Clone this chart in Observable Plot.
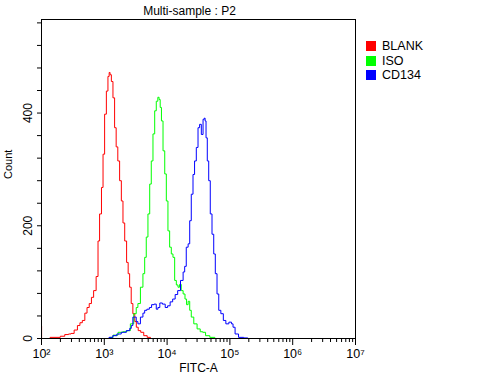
<!DOCTYPE html>
<html>
<head>
<meta charset="utf-8">
<script src="https://cdn.jsdelivr.net/npm/d3@7"></script>
<script src="https://cdn.jsdelivr.net/npm/@observablehq/plot@0.6"></script>
<style>
  html, body { margin: 0; padding: 0; background: #fff; }
  #wrap { position: relative; width: 492px; height: 377px; }
  #legend { position: absolute; left: 366px; top: 39px; font: 12.5px "Liberation Sans", Arial, sans-serif; color: #000; }
  .row { display: flex; align-items: center; height: 14.5px; }
  .sw { width: 10px; height: 10px; margin-right: 6px; }
</style>
</head>
<body>
<div id="wrap"><div id="legend"></div></div>
<script>
// Series names and colours
const seriesNames = ["BLANK", "ISO", "CD134"];
const seriesColors = ["#ff0000", "#00ff00", "#0000ff"];

// x values are log10(FITC-A), y values are counts
const blankLogX = [2.0, 2.003, 2.27, 2.33, 2.41, 2.45, 2.49, 2.55, 2.594, 2.63, 2.67, 2.71, 2.74, 2.78, 2.81, 2.85, 2.89, 2.91, 2.94, 2.97, 2.99, 3.02, 3.046, 3.07, 3.085, 3.099, 3.126, 3.15, 3.178, 3.20, 3.23, 3.258, 3.285, 3.31, 3.34, 3.37, 3.39, 3.417, 3.44, 3.47, 3.50, 3.52, 3.56, 3.60, 3.656, 3.71, 3.76];
const blankCount = [22, 0, 2, 4, 7, 8, 9, 15, 23, 28, 32, 45, 55, 62, 73, 85, 110, 173, 221, 268, 327, 398, 439, 465, 472, 468, 456, 427, 374, 340, 315, 280, 244, 205, 173, 135, 115, 91, 62, 44, 30, 20, 14, 11, 5, 2, 0];

const isoLogX = [3.08, 3.1, 3.18, 3.258, 3.33, 3.39, 3.44, 3.497, 3.52, 3.55, 3.60, 3.63, 3.656, 3.68, 3.71, 3.736, 3.76, 3.79, 3.815, 3.84, 3.865, 3.88, 3.90, 3.92, 3.95, 3.975, 4.00, 4.027, 4.054, 4.08, 4.107, 4.134, 4.16, 4.187, 4.21, 4.24, 4.27, 4.30, 4.32, 4.35, 4.37, 4.40, 4.45, 4.505, 4.55, 4.585, 4.64, 4.72, 4.80];
const isoCount = [0, 2, 6, 11, 12, 14, 26, 44, 55, 62, 91, 115, 144, 180, 221, 274, 315, 363, 404, 421, 428, 424, 410, 386, 333, 292, 244, 191, 162, 150, 144, 103, 95, 91, 96, 85, 79, 70, 60, 66, 50, 38, 26, 17, 12, 11, 5, 2, 0];

const cd134LogX = [3.05, 3.1, 3.17, 3.23, 3.31, 3.39, 3.42, 3.44, 3.47, 3.497, 3.52, 3.55, 3.60, 3.63, 3.656, 3.70, 3.736, 3.77, 3.815, 3.84, 3.868, 3.90, 3.95, 3.99, 4.027, 4.07, 4.107, 4.15, 4.187, 4.24, 4.27, 4.29, 4.32, 4.35, 4.37, 4.40, 4.425, 4.45, 4.48, 4.505, 4.53, 4.56, 4.585, 4.60, 4.61, 4.63, 4.65, 4.675, 4.70, 4.73, 4.755, 4.78, 4.81, 4.835, 4.877, 4.914, 4.957, 5.01, 5.04, 5.06, 5.105, 5.17, 5.27, 5.30];
const cd134Count = [0, 2, 5, 8, 11, 14, 18, 23, 38, 38, 30, 26, 38, 45, 50, 52, 55, 60, 61, 52, 55, 63, 61, 55, 58, 65, 70, 78, 85, 103, 118, 128, 162, 168, 209, 256, 291, 315, 339, 374, 380, 362, 389, 391, 386, 356, 315, 280, 221, 185, 150, 115, 79, 50, 44, 32, 26, 29, 26, 20, 8, 2, 1, 0];

// Tick values
const decadeTicks = [1e2, 1e3, 1e4, 1e5, 1e6, 1e7];
const yTicks = [0, 40, 80, 120, 160, 200, 240, 280, 320, 360, 400, 440, 480, 520, 560];
const yLabels = [0, 200, 400];
const sup = {2: "\u00B2", 3: "\u00B3", 4: "\u2074", 5: "\u2075", 6: "\u2076", 7: "\u2077"};

const minorTicks = [];
for (let n = 2; n < 7; n++) for (let k = 2; k <= 9; k++) minorTicks.push(k * 10 ** n);

const rows = [];
[[blankLogX, blankCount], [isoLogX, isoCount], [cd134LogX, cd134Count]].forEach(([xs, ys], i) => {
  xs.forEach((lx, j) => rows.push({series: seriesNames[i], fitc: 10 ** lx, count: ys[j]}));
});

const chart = Plot.plot({
  width: 492,
  height: 377,
  marginLeft: 41,
  marginRight: 137,
  marginTop: 19,
  marginBottom: 39,
  style: {fontFamily: '"Liberation Sans", Arial, sans-serif', fontSize: "12px", color: "#000", background: "#fff"},
  x: {type: "log", domain: [1e2, 1e7], axis: null},
  y: {domain: [0, 566], axis: null},
  color: {domain: seriesNames, range: seriesColors},
  marks: [
    Plot.line(rows, {x: "fitc", y: "count", z: "series", stroke: "series", strokeWidth: 1, curve: "step"}),
    Plot.frame({stroke: "#000", strokeWidth: 1}),
    Plot.axisY({ticks: yTicks, tickSize: 4, tickFormat: () => "", label: null}),
    Plot.text(yLabels, {frameAnchor: "left", y: d => d, text: d => String(d), rotate: -90, dx: -10, lineAnchor: "bottom", textAnchor: "middle", fontSize: 12}),
    Plot.axisX({ticks: minorTicks, tickSize: 4, tickFormat: () => "", label: null}),
    Plot.axisX({ticks: decadeTicks, tickSize: 7, tickPadding: 4, fontSize: 12.5, label: null, tickFormat: d => "10" + sup[Math.round(Math.log10(d))]}),
    Plot.text(["Multi-sample : P2"], {frameAnchor: "top", dx: -9, dy: -5, text: d => d, lineAnchor: "bottom", fontSize: 12}),
    Plot.text(["FITC-A"], {frameAnchor: "bottom", dy: 30, text: d => d, lineAnchor: "middle", fontSize: 12}),
    Plot.text(["Count"], {frameAnchor: "left", dx: -33, rotate: -90, text: d => d, lineAnchor: "middle", fontSize: 11})
  ]
});
document.getElementById("wrap").prepend(chart);

const legend = document.getElementById("legend");
seriesNames.forEach((name, i) => {
  const row = document.createElement("div");
  row.className = "row";
  const sw = document.createElement("span");
  sw.className = "sw";
  sw.style.background = seriesColors[i];
  row.appendChild(sw);
  row.appendChild(document.createTextNode(name));
  legend.appendChild(row);
});
</script>
</body>
</html>
